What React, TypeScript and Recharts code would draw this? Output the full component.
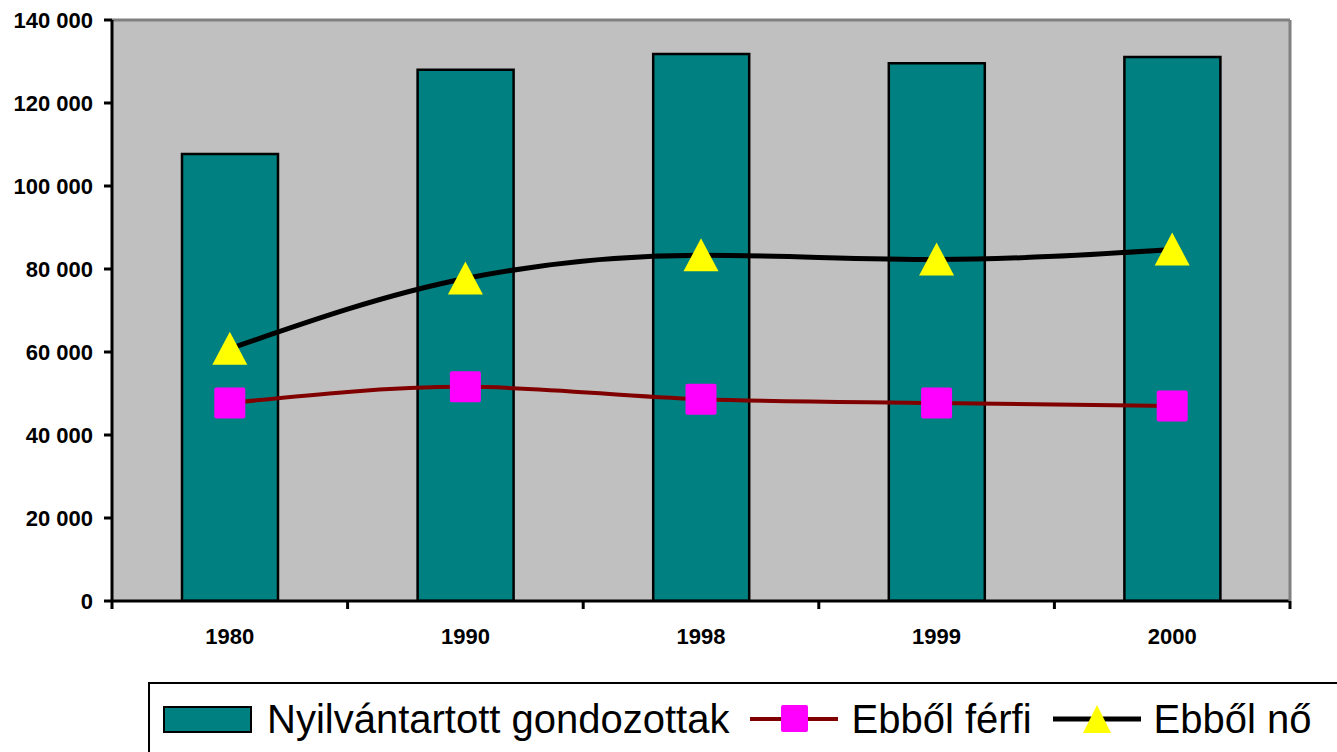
import React from 'react';
import {
  ComposedChart,
  Bar,
  Line,
  XAxis,
  YAxis,
  CartesianGrid,
  ReferenceLine,
} from 'recharts';

const years = ['1980', '1990', '1998', '1999', '2000'];
const gondozottak = [107700, 128000, 131800, 129600, 131100];
const ferfi = [47700, 51600, 48600, 47700, 47000];
const no = [60800, 77700, 83300, 82300, 84700];
const yTicks = [0, 20000, 40000, 60000, 80000, 100000, 120000, 140000];

const data = years.map((year, i) => ({
  year,
  gondozottak: gondozottak[i],
  ferfi: ferfi[i],
  no: no[i],
}));

const font = 'Arial, "Liberation Sans", sans-serif';

const fmt = (v: number) => String(v).replace(/\B(?=(\d{3})+(?!\d))/g, ' ');

const SquareDot = ({ cx, cy }: any) => {
  if (cx == null || cy == null) return null;
  return <rect x={cx - 15.5} y={cy - 15.5} width={31} height={31} rx={2} fill="#ff00ff" />;
};

const TriangleDot = ({ cx, cy }: any) => {
  if (cx == null || cy == null) return null;
  return (
    <polygon
      points={`${cx},${cy - 17} ${cx + 17.5},${cy + 16} ${cx - 17.5},${cy + 16}`}
      fill="#ffff00"
      strokeLinejoin="round"
    />
  );
};

// category labels in the middle, tick marks on the category boundaries
const YearTick = ({ x, y, payload, index, visibleTicksCount }: any) => {
  const half = payload && payload.offset ? payload.offset : 117.8;
  const isLast = index === visibleTicksCount - 1;
  return (
    <g>
      <line x1={x - half} y1={y} x2={x - half} y2={y + 8} stroke="#000" strokeWidth={3} />
      {isLast && <line x1={x + half} y1={y} x2={x + half} y2={y + 8} stroke="#000" strokeWidth={3} />}
      <text
        x={x}
        y={y + 43}
        textAnchor="middle"
        fontFamily={font}
        fontWeight="bold"
        fontSize={22}
        fill="#000"
      >
        {payload.value}
      </text>
    </g>
  );
};

const legendItems = [
  { name: 'Nyilvántartott gondozottak', kind: 'bar' },
  { name: 'Ebből férfi', kind: 'square' },
  { name: 'Ebből nő', kind: 'triangle' },
];

function LegendIcon({ kind }: { kind: string }) {
  if (kind === 'bar') {
    return (
      <div
        style={{
          width: 85,
          height: 23,
          background: '#008080',
          border: '2px solid #000',
        }}
      />
    );
  }
  const lineColor = kind === 'square' ? '#800000' : '#000';
  return (
    <svg width={88} height={34}>
      <line x1={0} y1={17} x2={88} y2={17} stroke={lineColor} strokeWidth={kind === 'square' ? 4 : 5} />
      {kind === 'square' ? (
        <rect x={31} y={3} width={27} height={27} rx={2} fill="#ff00ff" />
      ) : (
        <polygon points="44,3 58,31 30,31" fill="#ffff00" strokeLinejoin="round" />
      )}
    </svg>
  );
}

export default function App() {
  return (
    <div
      style={{
        position: 'absolute',
        left: 0,
        top: 0,
        width: 1337,
        height: 752,
        overflow: 'hidden',
        background: '#fff',
      }}
    >
      <ComposedChart
        width={1337}
        height={752}
        data={data}
        margin={{ top: 20, right: 0, bottom: 0, left: 0 }}
        barCategoryGap={0}
      >
        <CartesianGrid fill="#c0c0c0" fillOpacity={1} horizontal={false} vertical={false} />
        <XAxis
          dataKey="year"
          height={151}
          axisLine={{ stroke: '#000', strokeWidth: 3 }}
          tickLine={false}
          tickSize={0}
          tickMargin={0}
          tick={<YearTick />}
          interval={0}
        />
        <YAxis
          yAxisId="left"
          width={112}
          domain={[0, 140000]}
          ticks={yTicks}
          tickFormatter={fmt}
          tickSize={8}
          tickMargin={11}
          axisLine={{ stroke: '#000', strokeWidth: 3 }}
          tickLine={{ stroke: '#000', strokeWidth: 3 }}
          tick={{ fill: '#000', fontFamily: font, fontWeight: 'bold', fontSize: 22 }}
          allowDataOverflow
        />
        <YAxis
          yAxisId="right"
          orientation="right"
          width={47}
          domain={[0, 140000]}
          ticks={yTicks}
          tick={false}
          tickLine={false}
          axisLine={{ stroke: '#808080', strokeWidth: 3 }}
        />
        <ReferenceLine yAxisId="left" y={140000} stroke="#808080" strokeWidth={3} />
        <Bar
          yAxisId="left"
          dataKey="gondozottak"
          name="Nyilvántartott gondozottak"
          fill="#008080"
          stroke="#000"
          strokeWidth={2.5}
          barSize={96}
          isAnimationActive={false}
        />
        <Line
          yAxisId="left"
          type="monotone"
          dataKey="ferfi"
          name="Ebből férfi"
          stroke="#800000"
          strokeWidth={4}
          dot={<SquareDot />}
          activeDot={false}
          isAnimationActive={false}
        />
        <Line
          yAxisId="left"
          type="monotone"
          dataKey="no"
          name="Ebből nő"
          stroke="#000"
          strokeWidth={5}
          dot={<TriangleDot />}
          activeDot={false}
          isAnimationActive={false}
        />
      </ComposedChart>
      <div
        style={{
          position: 'absolute',
          left: 148,
          top: 682,
          width: 1250,
          height: 100,
          border: '2px solid #000',
          boxSizing: 'border-box',
          background: '#fff',
        }}
      >
        <div
          style={{
            display: 'flex',
            alignItems: 'center',
            height: 70,
            paddingLeft: 13,
            fontFamily: font,
            fontSize: 40,
            color: '#000',
            whiteSpace: 'nowrap',
          }}
        >
          {legendItems.map((item) => (
            <div key={item.name} style={{ display: 'flex', alignItems: 'center', marginRight: 21 }}>
              <LegendIcon kind={item.kind} />
              <span style={{ marginLeft: item.kind === 'bar' ? 15 : 13 }}>{item.name}</span>
            </div>
          ))}
        </div>
      </div>
    </div>
  );
}
